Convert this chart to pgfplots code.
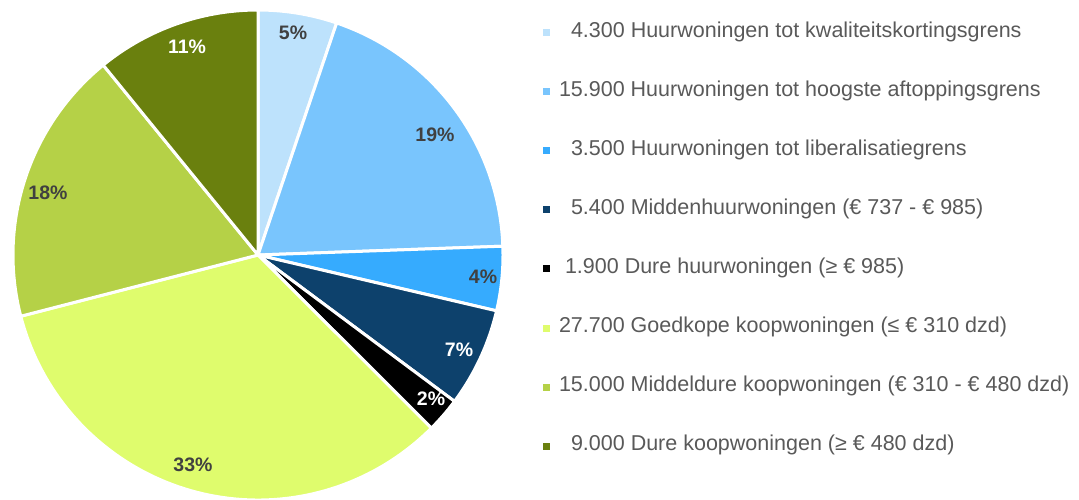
\documentclass[border=0pt]{standalone}
\usepackage{pgfplots}
\pgfplotsset{compat=1.18}
\usepackage{fontspec}
\setmainfont{Liberation Sans}
\definecolor{c1}{HTML}{BDE2FC}
\definecolor{c2}{HTML}{79C5FD}
\definecolor{c3}{HTML}{36ABFE}
\definecolor{c4}{HTML}{0D416C}
\definecolor{c5}{HTML}{000000}
\definecolor{c6}{HTML}{DFFC6D}
\definecolor{c7}{HTML}{B5D147}
\definecolor{c8}{HTML}{6A800E}
\definecolor{legtext}{HTML}{595959}
\definecolor{labdark}{HTML}{404040}
% values in thousands: 4.3, 15.9, 3.5, 5.4, 1.9, 27.7, 15.0, 9.0 (total 82.7)
\newcommand{\slice}[4]{%
  \addplot[fill=#3, draw=white, line width=1.5pt, line join=round,
    domain={90-#2/82.7*360}:{90-#1/82.7*360}, samples=80]
    ({258+245*cos(x)},{244+245*sin(x)}) -- (axis cs:258,244) -- cycle;
  \addlegendentry{#4}%
}
\begin{document}
\begin{tikzpicture}
\begin{axis}[
  hide axis, scale only axis,
  width=539.5pt, height=249.5pt,
  xmin=0, xmax=1079, ymin=0, ymax=499,
  clip=false,
  legend cell align=left,
  legend image code/.code={\fill[#1,draw=none] (0pt,-1.75pt) rectangle (3.5pt,1.75pt);},
  legend style={at={(axis cs:543,476)}, anchor=north west, draw=none, fill=none,
    inner sep=0pt, outer sep=0pt, row sep=20.05pt, text=legtext,
    font=\fontsize{10.75}{12}\selectfont,
    nodes={inner sep=0pt, text height=7pt, text depth=2.5pt},
    /tikz/every odd column/.append style={column sep=4.5pt}},
]
\slice{0}{4.3}{c1}{\hspace{6pt}4.300 Huurwoningen tot kwaliteitskortingsgrens}
\slice{4.3}{20.2}{c2}{15.900 Huurwoningen tot hoogste aftoppingsgrens}
\slice{20.2}{23.7}{c3}{\hspace{6pt}3.500 Huurwoningen tot liberalisatiegrens}
\slice{23.7}{29.1}{c4}{\hspace{6pt}5.400 Middenhuurwoningen (€ 737 - € 985)}
\slice{29.1}{31.0}{c5}{\hspace{3pt}1.900 Dure huurwoningen (≥ € 985)}
\slice{31.0}{58.7}{c6}{27.700 Goedkope koopwoningen (≤ € 310 dzd)}
\slice{58.7}{73.7}{c7}{15.000 Middeldure koopwoningen (€ 310 - € 480 dzd)}
\slice{73.7}{82.7}{c8}{\hspace{6pt}9.000 Dure koopwoningen (≥ € 480 dzd)}
\begin{scope}[every node/.style={font=\fontsize{9.75}{11}\selectfont\bfseries}]
\node[text=labdark] at (axis cs:293,466) {5\%};
\node[text=labdark] at (axis cs:435,364) {19\%};
\node[text=labdark] at (axis cs:483,222) {4\%};
\node[text=white] at (axis cs:459,149) {7\%};
\node[text=white] at (axis cs:431,100) {2\%};
\node[text=labdark] at (axis cs:193,34) {33\%};
\node[text=labdark] at (axis cs:48,306) {18\%};
\node[text=white] at (axis cs:187,452) {11\%};
\end{scope}
\end{axis}
\pgfresetboundingbox
\path (current axis.south west) rectangle (current axis.north east);
\end{tikzpicture}
\end{document}
